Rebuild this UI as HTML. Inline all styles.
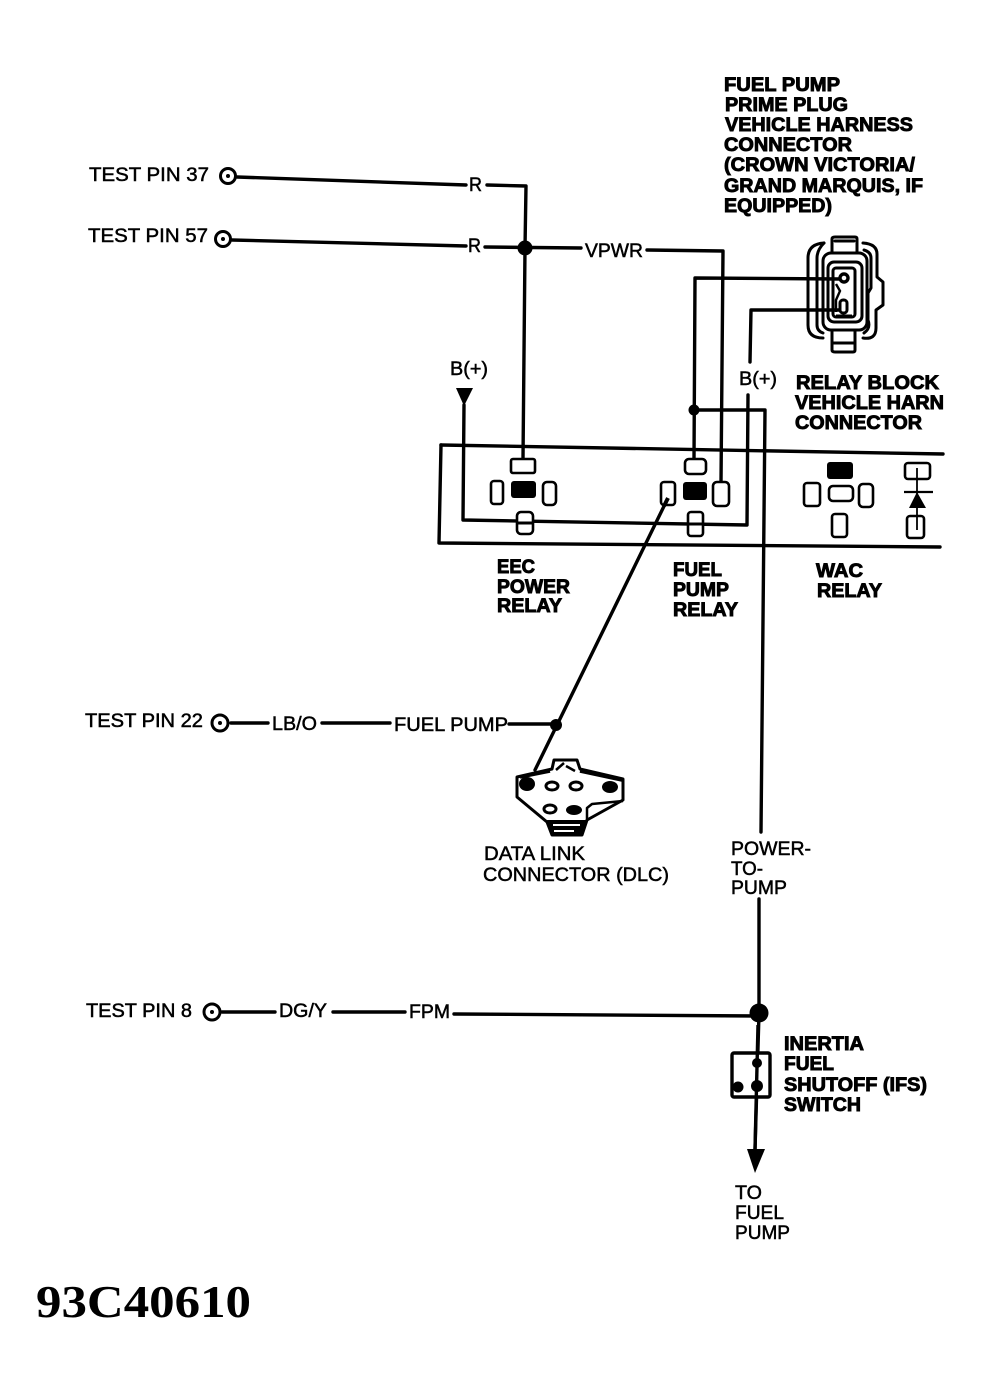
<!DOCTYPE html>
<html><head><meta charset="utf-8"><style>
html,body{margin:0;padding:0;background:#fff}
svg{display:block}
text{font-family:"Liberation Sans",sans-serif;font-size:19px;fill:#000}
.b{font-weight:bold;stroke:#000;stroke-width:.9px}
.r{stroke:#000;stroke-width:.5px}
.w{fill:none;stroke:#000;stroke-width:3.4;stroke-linecap:round;stroke-linejoin:round}
.t{fill:none;stroke:#000;stroke-width:3;stroke-linejoin:round;stroke-linecap:round}
.p{fill:#fff;stroke:#000;stroke-width:2.6}
</style></head><body>
<svg width="981" height="1392" viewBox="0 0 981 1392" xmlns="http://www.w3.org/2000/svg">
<rect width="981" height="1392" fill="#fff"/>

<!-- test pin terminals -->
<g fill="none" stroke="#000" stroke-width="3">
<circle cx="228" cy="176" r="7.5"/><circle cx="223" cy="239" r="7.5"/><circle cx="220" cy="723" r="8"/><circle cx="212" cy="1012" r="8"/>
</g>
<g fill="#000"><circle cx="228" cy="176" r="2"/><circle cx="223" cy="239" r="2"/><circle cx="220" cy="723" r="2"/><circle cx="212" cy="1012" r="2"/></g>

<!-- wires -->
<g class="w">
<path d="M237 177L466 185"/>
<path d="M487 185L526 186L525 248L523 459"/>
<path d="M232 240L466 246"/>
<path d="M485 247L581 248"/>
<path d="M647 250L723 251L721 483"/>
<path d="M694 460L695 278L840 279"/>
<path d="M750 362L751 310L842 310"/>
<path d="M748 395L747 525L463 520L464 405"/>
<path d="M694 410L765 410L761 832"/>
<path d="M759 899L759 1013L755 1150"/>
<path d="M231 723H268"/><path d="M322 723H390"/><path d="M509 724H556"/>
<path d="M668 498L535 770"/>
<path d="M222 1012H275"/><path d="M333 1012H405"/><path d="M454 1014L759 1016"/>
<path d="M441 445L943 454"/>
<path d="M441 445L439 543L940 547"/>
</g>

<!-- junctions -->
<g fill="#000">
<circle cx="525" cy="248" r="7.5"/>
<circle cx="694" cy="410" r="5.5"/>
<circle cx="556" cy="725" r="6"/>
<circle cx="759" cy="1013" r="9.5"/>
<path d="M456 388H473L464 406Z"/>
<path d="M747 1149H765L755 1173Z"/>
</g>

<!-- relay pins -->
<g>
<rect class="p" x="511" y="459" width="24" height="14" rx="2"/>
<rect class="p" x="491" y="481" width="12" height="23" rx="3"/>
<rect x="511" y="481" width="25" height="17" rx="3" fill="#000"/>
<rect class="p" x="543" y="482" width="13" height="23" rx="4"/>
<rect class="p" x="517" y="512" width="16" height="22" rx="4"/>
<rect class="p" x="661" y="482" width="14" height="23" rx="3"/>
<rect class="p" x="685" y="459" width="21" height="15" rx="4"/>
<rect x="683" y="482" width="24" height="18" rx="3" fill="#000"/>
<rect class="p" x="713" y="482" width="16" height="24" rx="4"/>
<rect class="p" x="688" y="512" width="15" height="24" rx="3"/>
<rect x="827" y="462" width="26" height="17" rx="3" fill="#000"/>
<rect class="p" x="804" y="483" width="16" height="23" rx="3"/>
<rect class="p" x="829" y="486" width="24" height="15" rx="4"/>
<rect class="p" x="859" y="484" width="14" height="23" rx="4"/>
<rect class="p" x="832" y="514" width="15" height="23" rx="3"/>
<rect class="p" x="905" y="463" width="25" height="16" rx="3"/>
<rect class="p" x="907" y="516" width="17" height="22" rx="3"/>
</g>
<path d="M517 523H533M688 524H703" stroke="#000" stroke-width="3"/>
<path d="M668 498L664 506" stroke="#000" stroke-width="4"/>
<path d="M917 468V530" stroke="#000" stroke-width="1.8"/>
<path d="M904 492H933" stroke="#000" stroke-width="2.2"/>
<path d="M917 492L926 508H909Z" fill="#000"/>

<!-- fuel pump prime plug connector -->
<g class="t">
<path d="M832 253V239Q832 237 835 237H855Q857 237 857 239V253"/>
<path d="M835 241H854"/>
<rect x="823" y="253" width="44" height="77" rx="8"/>
<rect x="828" y="262" width="34" height="60" rx="6"/>
<rect x="833" y="268" width="22" height="49" rx="3"/>
<path d="M824 243Q808 244 808 258V325Q808 338 823 338"/>
<path d="M824 243Q817 250 817 258V325Q817 331 823 333"/>
<path d="M863 243Q877 244 877 254V277L883 282V305L876 310V328Q876 340 863 338"/>
<path d="M864 250Q871 252 871 258V288L868 293V320Q871 328 864 333"/>
<path d="M832 330V350Q832 352 835 352H853Q855 352 855 350V330"/>
<path d="M832 343H855"/>
</g>
<circle cx="844" cy="278" r="4" fill="#fff" stroke="#000" stroke-width="3.4"/>
<rect x="840" y="300" width="7" height="13" rx="3" fill="#fff" stroke="#000" stroke-width="3"/>
<path d="M836 284L840 291L836 300L836 312" fill="none" stroke="#000" stroke-width="2.4"/>
<path d="M837 268H852M836 316H852" stroke="#000" stroke-width="3"/>

<!-- data link connector -->
<g fill="none" stroke="#000" stroke-width="3" stroke-linejoin="round">
<path d="M517 777L552 769L554 760H577L580 769L623 779V800L587 820L582 835H552L547 822L517 797Z"/>
<path d="M520 777L550 771M580 771L622 780" stroke-width="3.5"/>
<path d="M587 820V808L592 804L623 801" stroke-width="2.5"/>
<path d="M556 770L564 763M566 766L575 771" stroke-width="2.5"/>
</g>
<path d="M547 820H587L582 835H552Z" fill="#000"/>
<path d="M553 825H580M554 831H574" stroke="#fff" stroke-width="2"/>
<g fill="#000">
<ellipse cx="527" cy="784" rx="8" ry="7"/>
<ellipse cx="610" cy="787" rx="8" ry="6"/>
<ellipse cx="574" cy="810" rx="8" ry="5"/>
</g>
<g fill="#fff" stroke="#000" stroke-width="3">
<ellipse cx="552" cy="786" rx="6" ry="4"/>
<ellipse cx="576" cy="786" rx="6" ry="4"/>
<ellipse cx="550" cy="809" rx="6" ry="4"/>
</g>

<!-- inertia switch -->
<rect x="732" y="1053" width="38" height="44" rx="2" fill="#fff" stroke="#000" stroke-width="3.4"/>
<path d="M758 1025L755 1150" stroke="#000" stroke-width="3.4" fill="none"/>
<g fill="#000"><circle cx="757" cy="1063" r="5"/><circle cx="757" cy="1086" r="6"/><circle cx="738" cy="1087" r="5.5"/></g>

<!-- regular labels -->
<g class="r">
<text x="89" y="181" textLength="120" lengthAdjust="spacingAndGlyphs">TEST PIN 37</text>
<text x="88" y="242" textLength="120" lengthAdjust="spacingAndGlyphs">TEST PIN 57</text>
<text x="85" y="727" textLength="118" lengthAdjust="spacingAndGlyphs">TEST PIN 22</text>
<text x="86" y="1017" textLength="106" lengthAdjust="spacingAndGlyphs">TEST PIN 8</text>
<text x="469" y="191" textLength="13" lengthAdjust="spacingAndGlyphs">R</text>
<text x="468" y="252" textLength="13" lengthAdjust="spacingAndGlyphs">R</text>
<text x="585" y="257" textLength="58" lengthAdjust="spacingAndGlyphs">VPWR</text>
<text x="450" y="375" textLength="38" lengthAdjust="spacingAndGlyphs">B(+)</text>
<text x="739" y="385" textLength="38" lengthAdjust="spacingAndGlyphs">B(+)</text>
<text x="272" y="730" textLength="45" lengthAdjust="spacingAndGlyphs">LB/O</text>
<text x="394" y="731" textLength="114" lengthAdjust="spacingAndGlyphs">FUEL PUMP</text>
<text x="279" y="1017" textLength="48" lengthAdjust="spacingAndGlyphs">DG/Y</text>
<text x="409" y="1018" textLength="41" lengthAdjust="spacingAndGlyphs">FPM</text>
<text x="484" y="860" textLength="101" lengthAdjust="spacingAndGlyphs">DATA LINK</text>
<text x="483" y="881" textLength="186" lengthAdjust="spacingAndGlyphs">CONNECTOR (DLC)</text>
<text x="731" y="855" textLength="80" lengthAdjust="spacingAndGlyphs">POWER-</text>
<text x="731" y="875" textLength="32" lengthAdjust="spacingAndGlyphs">TO-</text>
<text x="731" y="894" textLength="56" lengthAdjust="spacingAndGlyphs">PUMP</text>
<text x="735" y="1199" textLength="27" lengthAdjust="spacingAndGlyphs">TO</text>
<text x="735" y="1219" textLength="49" lengthAdjust="spacingAndGlyphs">FUEL</text>
<text x="735" y="1239" textLength="55" lengthAdjust="spacingAndGlyphs">PUMP</text>
</g>

<!-- bold labels -->
<g class="b">
<text class="b" x="724" y="91" textLength="116" lengthAdjust="spacingAndGlyphs">FUEL PUMP</text>
<text class="b" x="725" y="111" textLength="123" lengthAdjust="spacingAndGlyphs">PRIME PLUG</text>
<text class="b" x="725" y="131" textLength="188" lengthAdjust="spacingAndGlyphs">VEHICLE HARNESS</text>
<text class="b" x="724" y="151" textLength="128" lengthAdjust="spacingAndGlyphs">CONNECTOR</text>
<text class="b" x="724" y="171" textLength="191" lengthAdjust="spacingAndGlyphs">(CROWN VICTORIA/</text>
<text class="b" x="724" y="192" textLength="199" lengthAdjust="spacingAndGlyphs">GRAND MARQUIS, IF</text>
<text class="b" x="724" y="212" textLength="108" lengthAdjust="spacingAndGlyphs">EQUIPPED)</text>
<text class="b" x="796" y="389" textLength="143" lengthAdjust="spacingAndGlyphs">RELAY BLOCK</text>
<text class="b" x="795" y="409" textLength="149" lengthAdjust="spacingAndGlyphs">VEHICLE HARN</text>
<text class="b" x="795" y="429" textLength="127" lengthAdjust="spacingAndGlyphs">CONNECTOR</text>
<text class="b" x="497" y="573" textLength="38" lengthAdjust="spacingAndGlyphs">EEC</text>
<text class="b" x="497" y="593" textLength="73" lengthAdjust="spacingAndGlyphs">POWER</text>
<text class="b" x="497" y="612" textLength="65" lengthAdjust="spacingAndGlyphs">RELAY</text>
<text class="b" x="673" y="576" textLength="49" lengthAdjust="spacingAndGlyphs">FUEL</text>
<text class="b" x="673" y="596" textLength="56" lengthAdjust="spacingAndGlyphs">PUMP</text>
<text class="b" x="673" y="616" textLength="65" lengthAdjust="spacingAndGlyphs">RELAY</text>
<text class="b" x="816" y="577" textLength="47" lengthAdjust="spacingAndGlyphs">WAC</text>
<text class="b" x="817" y="597" textLength="65" lengthAdjust="spacingAndGlyphs">RELAY</text>
<text class="b" x="784" y="1050" textLength="80" lengthAdjust="spacingAndGlyphs">INERTIA</text>
<text class="b" x="784" y="1070" textLength="50" lengthAdjust="spacingAndGlyphs">FUEL</text>
<text class="b" x="784" y="1091" textLength="143" lengthAdjust="spacingAndGlyphs">SHUTOFF (IFS)</text>
<text class="b" x="784" y="1111" textLength="77" lengthAdjust="spacingAndGlyphs">SWITCH</text>
</g>

<text x="36" y="1317" textLength="215" lengthAdjust="spacingAndGlyphs" style="font-family:'Liberation Serif',serif;font-weight:bold;font-size:46px">93C40610</text>
</svg>
</body></html>
